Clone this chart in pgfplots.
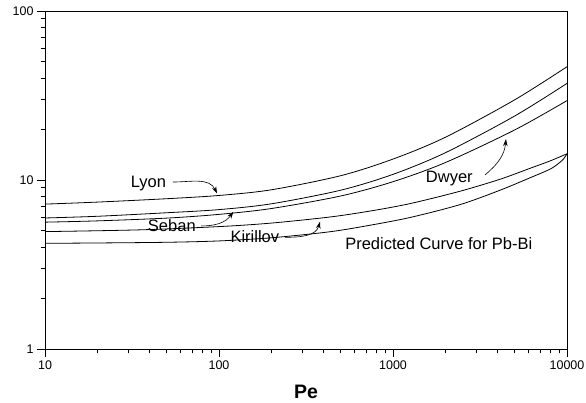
\documentclass[border=0pt]{standalone}
\usepackage{fontspec}
\setmainfont{Liberation Sans}
\usepackage{pgfplots}
\pgfplotsset{compat=1.18}
\usetikzlibrary{arrows.meta}

\begin{document}
\begin{tikzpicture}
\begin{axis}[
  name=main,
  scale only axis,
  width=522pt, height=338pt,
  xmode=log, ymode=log,
  xmin=10, xmax=10000,
  ymin=1, ymax=100,
  tick pos=left,
  tick align=outside,
  major tick length=8pt,
  minor tick length=4.5pt,
  xtick={10,100,1000,10000},
  xticklabels={10,100,1000,10000},
  ytick={1,10,100},
  yticklabels={1,10,100},
  tick label style={font=\fontsize{12.5}{14}\selectfont},
  axis line style={line width=0.8pt},
  every tick/.style={line width=0.8pt, black},
  xlabel={\textbf{Pe}},
  xlabel style={font=\fontsize{19.5}{22}\selectfont, at={(axis description cs:0.5,0)}, anchor=center, yshift=-42.7pt},
  clip=false,
  every axis plot/.append style={line width=0.8pt, black, no marks},
]
% Lyon
\addplot[smooth] coordinates {
  (10,7.2) (20,7.4) (50,7.75) (100,8.1) (200,8.75) (500,10.6)
  (1000,13.3) (2000,17.9) (5000,29.8) (10000,46.8)
};
% Seban
\addplot[smooth] coordinates {
  (10,5.96) (20,6.1) (50,6.4) (100,6.68) (200,7.23) (500,8.7)
  (1000,10.8) (2000,14.5) (5000,23.9) (10000,37.3)
};
% Dwyer
\addplot[smooth] coordinates {
  (10,5.63) (20,5.73) (50,5.95) (100,6.26) (200,6.78) (500,8.04)
  (1000,9.77) (2000,12.68) (5000,19.77) (10000,29.5)
};
% Kirillov
\addplot[smooth] coordinates {
  (10,4.95) (35,5.07) (100,5.3) (200,5.56) (434,6.04) (738,6.55)
  (1253,7.25) (2427,8.58) (4121,10.1) (6124,11.72) (8000,12.97) (10000,14.3)
};
% Predicted curve for Pb-Bi
\addplot[smooth] coordinates {
  (10,4.22) (20,4.24) (50,4.28) (100,4.36) (200,4.55) (434,4.94)
  (738,5.4) (1253,6.0) (2427,7.15) (4121,8.7) (6124,10.3) (8000,11.6)
  (9000,12.6) (9600,13.4) (10000,14.3)
};

% labels and arrows
\begin{scope}[font=\fontsize{16.5}{19}\selectfont]
  \node at (rel axis cs:0.198,0.491) {Lyon};
  \node at (rel axis cs:0.243,0.365) {Seban};
  \node at (rel axis cs:0.402,0.333) {Kirillov};
  \node at (rel axis cs:0.7745,0.505) {Dwyer};
  \node at (rel axis cs:0.7544,0.3127) {Predicted Curve for Pb-Bi};
\end{scope}
\begin{scope}[line width=0.6pt, -{Stealth[length=7pt,width=4.5pt]}]
  \draw (rel axis cs:0.245,0.494) to[out=0,in=115] (rel axis cs:0.3295,0.460);
  \draw (rel axis cs:0.299,0.364) to[out=0,in=235] (rel axis cs:0.3608,0.406);
  \draw (rel axis cs:0.4598,0.3305) to[out=0,in=255] (rel axis cs:0.5268,0.3766);
  \draw (rel axis cs:0.843,0.515) to[out=40,in=265] (rel axis cs:0.883,0.621);
\end{scope}
\end{axis}
\pgfresetboundingbox
\useasboundingbox (main.south west) ++(-45pt,-54pt) rectangle ++(586pt,403pt);
\end{tikzpicture}
\end{document}
